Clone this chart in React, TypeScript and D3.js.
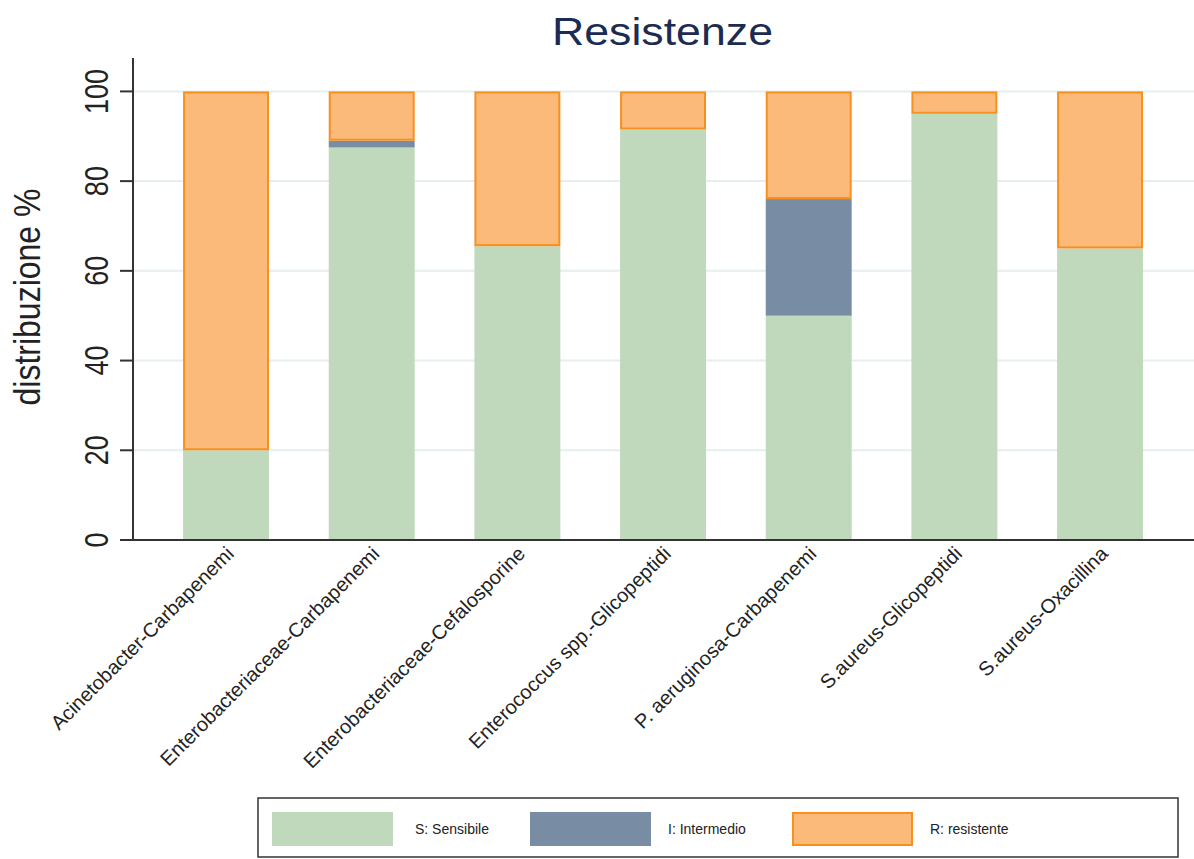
import React from "react";
import * as d3 from "d3";

const categories = [
  "Acinetobacter-Carbapenemi",
  "Enterobacteriaceae-Carbapenemi",
  "Enterobacteriaceae-Cefalosporine",
  "Enterococcus spp.-Glicopeptidi",
  "P. aeruginosa-Carbapenemi",
  "S.aureus-Glicopeptidi",
  "S.aureus-Oxacillina",
];
const sensibile = [20, 87.5, 65.5, 91.5, 50, 95, 65];
const intermedio = [0, 1.5, 0, 0, 26, 0, 0];
const resistente = [80, 11, 34.5, 8.5, 24, 5, 35];
const yTicks = [0, 20, 40, 60, 80, 100];
const seriesNames = ["S: Sensibile", "I: Intermedio", "R: resistente"];

const W = 1194;
const H = 859;
const FONT = "'Liberation Sans', Arial, Helvetica, sans-serif";
const fills = ["#c0d9bc", "#788ca4", "#fbb97a"];
const strokes = ["#c0d9bc", "#788ca4", "#f7901e"];

export default function App() {
  const left = 133;
  const right = 1194;
  const x0 = 153.2;
  const step = 145.67;
  const x = d3
    .scaleBand<string>()
    .domain(categories)
    .range([x0, x0 + step * categories.length])
    .paddingInner(0.41)
    .paddingOuter(0.205);
  const y = d3.scaleLinear().domain([0, 107]).range([540, 60]);

  const rows = categories.map((c, i) => ({
    cat: c,
    vals: [sensibile[i], intermedio[i], resistente[i]],
  }));

  const stack = d3
    .stack<any>()
    .keys(["0", "1", "2"])
    .value((d: any, k: string) => d.vals[+k]);
  const stacked = stack(rows);

  const legendItems = [
    { sx: 272, tx: 415 },
    { sx: 530, tx: 668 },
    { sx: 792, tx: 930 },
  ];

  return (
    <svg
      width={W}
      height={H}
      style={{ position: "absolute", left: 0, top: 0, background: "#fff" }}
      fontFamily={FONT}
    >
      <rect x={0} y={0} width={W} height={H} fill="#fff" />
      {/* title */}
      <text
        x={552}
        y={45}
        fontSize={38}
        fill="#1c2b52"
        textLength={221}
        lengthAdjust="spacingAndGlyphs"
      >
        Resistenze
      </text>
      {/* gridlines */}
      {yTicks.map((t) => (
        <line
          key={"g" + t}
          x1={left}
          x2={right}
          y1={y(t)}
          y2={y(t)}
          stroke="#e6eef0"
          strokeWidth={2}
        />
      ))}
      {/* bars */}
      {stacked.map((layer, si) =>
        layer.map((d, i) => {
          const h = y(d[0]) - y(d[1]);
          if (h <= 0) return null;
          const isR = si === 2;
          return (
            <rect
              key={si + "-" + i}
              x={x(categories[i])! + (isR ? 1 : 0)}
              y={y(d[1]) + (isR ? 1 : 0)}
              width={x.bandwidth() - (isR ? 2 : 0)}
              height={h - (isR ? 2 : 0)}
              fill={fills[si]}
              stroke={isR ? strokes[si] : "none"}
              strokeWidth={isR ? 2 : 0}
            />
          );
        })
      )}
      {/* axes */}
      <line x1={left} x2={left} y1={58} y2={y(0) + 1} stroke="#333" strokeWidth={2} />
      <line x1={left - 1} x2={right} y1={y(0)} y2={y(0)} stroke="#333" strokeWidth={2} />
      {yTicks.map((t) => (
        <g key={"t" + t}>
          <line x1={left - 13} x2={left} y1={y(t)} y2={y(t)} stroke="#333" strokeWidth={2} />
          <text
            transform={`translate(${108},${y(t)}) scale(1.25,1) rotate(-90)`}
            textAnchor="middle"
            fontSize={27}
            fill="#222"
          >
            {t}
          </text>
        </g>
      ))}
      <text
        transform={`translate(40,${297}) scale(1.15,1) rotate(-90)`}
        textAnchor="middle"
        fontSize={32}
        fill="#222"
      >
        distribuzione %
      </text>
      {/* x labels */}
      {categories.map((c) => {
        const cx = x(c)! + x.bandwidth() / 2;
        return (
          <text
            key={"x" + c}
            transform={`translate(${cx + 9},${555}) rotate(-45)`}
            textAnchor="end"
            fontSize={20}
            fill="#222"
          >
            {c}
          </text>
        );
      })}
      {/* legend */}
      <rect x={258} y={798} width={920} height={59} fill="#fff" stroke="#333" strokeWidth={1.5} />
      {legendItems.map((it, i) => (
        <g key={"l" + i}>
          <rect
            x={it.sx + (i === 2 ? 1 : 0)}
            y={812 + (i === 2 ? 1 : 0)}
            width={121 - (i === 2 ? 2 : 0)}
            height={34 - (i === 2 ? 2 : 0)}
            fill={fills[i]}
            stroke={i === 2 ? strokes[i] : "none"}
            strokeWidth={i === 2 ? 2 : 0}
          />
          <text x={it.tx} y={834} fontSize={14} fill="#222">
            {seriesNames[i]}
          </text>
        </g>
      ))}
    </svg>
  );
}
